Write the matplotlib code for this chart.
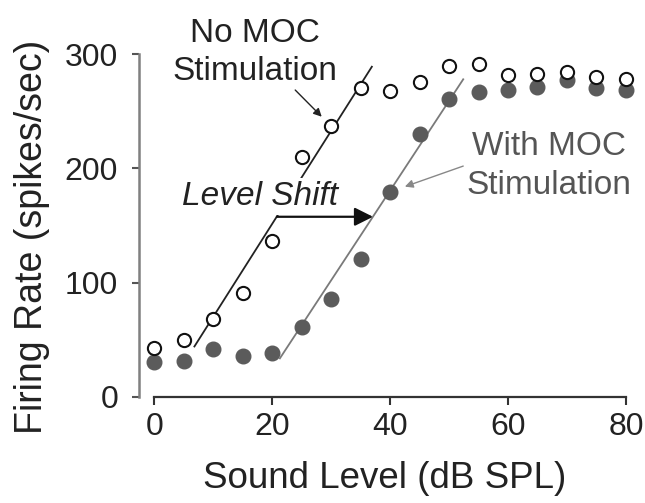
import matplotlib.pyplot as plt

# rate-level functions
level = [0, 5, 10, 15, 20, 25, 30, 35, 40, 45, 50, 55, 60, 65, 70, 75, 80]
no_moc = [43, 50, 68, 91, 136, 210, 237, 270, 268, 276, 290, 291, 282, 283, 284, 280, 278]
with_moc = [30, 31, 41.5, 36, 38.5, 61, 86, 121, 179.5, 230, 261, 267, 269, 271.5, 277, 270, 269]

# hand-drawn slope lines
no_moc_fit_x = [6.8, 36.9]
no_moc_fit_y = [44, 289]
with_moc_fit_x = [21.3, 52.4]
with_moc_fit_y = [33.6, 278]

# level shift arrow
shift_y = 157.6
shift_from = 20.8
shift_to = 37.1

plt.rcParams['font.family'] = ['Liberation Sans', 'DejaVu Sans']

fig = plt.figure(figsize=(6.45, 5.03), dpi=100)
ax = fig.add_axes([0.2155, 0.2113, 0.7732, 0.7264])

gray_pts = '#5b5b5b'
gray_line = '#7a7a7a'
gray_txt = '#555555'

ax.plot(no_moc_fit_x, no_moc_fit_y, color='#222222', lw=1.3, zorder=2)
ax.plot(with_moc_fit_x, with_moc_fit_y, color=gray_line, lw=1.3, zorder=2)

ax.plot(level, with_moc, 'o', ms=10.5, color=gray_pts, mec=gray_pts, zorder=5, clip_on=False)
ax.plot(level, no_moc, 'o', ms=9.5, mfc='white', mec='#111111', mew=1.5, zorder=6, clip_on=False)

# annotations
ax.text(17.9, 167.9, 'Level Shift', style='italic', fontsize=24, color='#222222',
        ha='center', va='baseline', zorder=3,
        bbox=dict(fc='white', ec='none', pad=2))
ax.annotate('', xy=(shift_to, shift_y), xytext=(shift_from, shift_y),
            arrowprops=dict(arrowstyle='-|>', mutation_scale=28, color='#111111',
                            lw=1.6, shrinkA=0, shrinkB=0), zorder=4)

ax.text(17.1, 310.6, 'No MOC', fontsize=24, color='#222222', ha='center', va='baseline')
ax.text(17.1, 277.3, 'Stimulation', fontsize=24, color='#222222', ha='center', va='baseline')
ax.annotate('', xy=(28.4, 245.2), xytext=(23.9, 268.6),
            arrowprops=dict(arrowstyle='-|>', mutation_scale=12, color='#222222',
                            lw=1.0, shrinkA=0, shrinkB=0))

ax.text(67, 211.6, 'With MOC', fontsize=24, color=gray_txt, ha='center', va='baseline')
ax.text(67, 177.5, 'Stimulation', fontsize=24, color=gray_txt, ha='center', va='baseline')
ax.annotate('', xy=(42.5, 184), xytext=(52.4, 202),
            arrowprops=dict(arrowstyle='-|>', mutation_scale=12, color='#888888',
                            lw=1.0, shrinkA=0, shrinkB=0))

# axes styling
ax.set_xlim(-2.6, 82)
ax.set_ylim(0, 320)
ax.spines['top'].set_visible(False)
ax.spines['right'].set_visible(False)
ax.spines['left'].set_bounds(0, 300)
ax.spines['bottom'].set_bounds(0, 80)
ax.spines['left'].set_color('#808080')
ax.spines['left'].set_linewidth(1.8)
ax.spines['bottom'].set_color('#333333')
ax.spines['bottom'].set_linewidth(1.6)
ax.set_xticks([0, 20, 40, 60, 80])
ax.set_yticks([0, 100, 200, 300])
ax.tick_params(axis='y', direction='out', length=5, width=1.5, color='#555555',
               pad=10, labelsize=23, labelcolor='#222222')
ax.tick_params(axis='x', direction='out', length=6, width=1.5, color='#333333',
               pad=5, labelsize=23, labelcolor='#222222')

fig.text(385 / 645, 1 - 488 / 503, 'Sound Level (dB SPL)', fontsize=26.5,
         color='#222222', ha='center', va='baseline')
fig.text(42 / 645, 1 - 236.5 / 503, 'Firing Rate (spikes/sec)', fontsize=27,
         color='#222222', ha='center', va='baseline', rotation=90, rotation_mode='anchor')

fig.savefig('out.png', dpi=100)
